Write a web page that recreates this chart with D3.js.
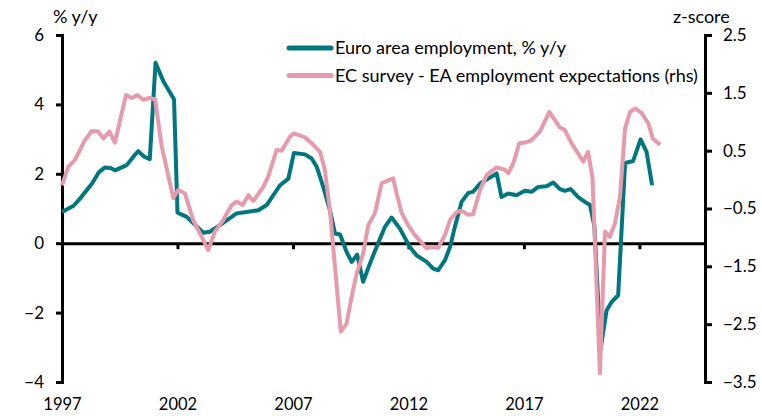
<!DOCTYPE html>
<html>
<head>
<meta charset="utf-8">
<script src="https://cdn.jsdelivr.net/npm/d3@7"></script>
<style>
  body { margin: 0; background: #fff; }
  svg text { font-family: Lato, "Liberation Sans", sans-serif; fill: #000; }
</style>
</head>
<body>
<div id="chart"></div>
<script>
// Euro area employment, % y/y (left axis)
var empTime = [1997.0, 1997.5, 1997.8, 1998.3, 1998.6, 1998.85, 1999.1, 1999.3, 1999.8, 2000.1,
  2000.3, 2000.55, 2000.8, 2001.05, 2001.4, 2001.85, 2002.0, 2002.4, 2003.12, 2003.4,
  2003.84, 2004.56, 2005.0, 2005.5, 2005.86, 2006.44, 2006.8, 2007.04, 2007.52, 2007.81,
  2008.03, 2008.31, 2008.6, 2008.82, 2009.04, 2009.32, 2009.54, 2009.78, 2010.04, 2010.33,
  2010.62, 2010.98, 2011.27, 2011.63, 2012.06, 2012.35, 2012.79, 2013.07, 2013.29, 2013.58,
  2013.8, 2014.01, 2014.3, 2014.59, 2014.8, 2015.1, 2015.53, 2015.82, 2016.03, 2016.32,
  2016.68, 2017.04, 2017.33, 2017.62, 2017.98, 2018.27, 2018.56, 2018.77, 2019.02, 2019.35,
  2019.64, 2019.86, 2020.05, 2020.32, 2020.58, 2020.8, 2021.08, 2021.38, 2021.73, 2022.05,
  2022.31, 2022.55];
var empValue = [0.9, 1.08, 1.3, 1.72, 2.05, 2.18, 2.17, 2.1, 2.25, 2.5,
  2.65, 2.5, 2.42, 5.2, 4.65, 4.15, 0.88, 0.76, 0.3, 0.33,
  0.52, 0.86, 0.9, 0.95, 1.1, 1.67, 1.86, 2.6, 2.56, 2.44,
  2.2, 1.62, 0.95, 0.28, 0.25, -0.25, -0.54, -0.33, -1.11, -0.59,
  -0.11, 0.47, 0.74, 0.42, -0.11, -0.35, -0.54, -0.73, -0.78, -0.49,
  -0.11, 0.47, 1.19, 1.45, 1.48, 1.72, 1.89, 2.01, 1.33, 1.43,
  1.38, 1.51, 1.48, 1.62, 1.64, 1.75, 1.56, 1.51, 1.56, 1.33,
  1.19, 1.1, 0.5, -3.05, -1.93, -1.69, -1.5, 2.31, 2.37, 2.99,
  2.63, 1.67];

// EC survey - EA employment expectations, z-score (right axis)
var ecTime = [1997.0, 1997.27, 1997.56, 1997.99, 1998.29, 1998.57, 1998.79, 1999.05, 1999.29, 1999.77,
  2000.02, 2000.26, 2000.52, 2000.78, 2001.03, 2001.32, 2001.82, 2002.03, 2002.32, 2002.68,
  2003.05, 2003.33, 2003.62, 2003.98, 2004.35, 2004.56, 2004.82, 2005.07, 2005.28, 2005.71,
  2005.93, 2006.29, 2006.51, 2006.87, 2007.04, 2007.52, 2007.81, 2008.17, 2008.38, 2008.6,
  2008.82, 2009.07, 2009.32, 2009.54, 2009.76, 2010.04, 2010.26, 2010.55, 2010.84, 2011.34,
  2011.49, 2011.71, 2011.99, 2012.28, 2012.79, 2013.0, 2013.29, 2013.58, 2013.8, 2014.09,
  2014.3, 2014.59, 2014.8, 2015.1, 2015.39, 2015.82, 2016.18, 2016.32, 2016.54, 2016.8,
  2017.04, 2017.33, 2017.69, 2018.1, 2018.34, 2018.56, 2018.77, 2019.06, 2019.57, 2019.78,
  2019.97, 2020.29, 2020.51, 2020.72, 2020.94, 2021.16, 2021.38, 2021.6, 2021.82, 2022.1,
  2022.39, 2022.58, 2022.9];
var ecValue = [-0.1, 0.22, 0.34, 0.68, 0.84, 0.83, 0.71, 0.83, 0.64, 1.46,
  1.41, 1.46, 1.38, 1.41, 1.39, 0.57, -0.32, -0.18, -0.24, -0.7,
  -0.99, -1.22, -0.9, -0.7, -0.44, -0.38, -0.44, -0.27, -0.37, -0.13,
  0.05, 0.51, 0.5, 0.74, 0.8, 0.73, 0.63, 0.48, 0.17, -0.53,
  -1.51, -2.63, -2.49, -2.03, -1.62, -1.28, -0.79, -0.58, -0.06, 0.02,
  -0.24, -0.58, -0.79, -0.96, -1.19, -1.16, -1.18, -0.96, -0.7, -0.56,
  -0.54, -0.61, -0.6, -0.18, 0.08, 0.21, 0.17, 0.11, 0.28, 0.63,
  0.64, 0.68, 0.83, 1.17, 1.03, 0.9, 0.86, 0.63, 0.31, 0.48,
  0.02, -3.35, -0.9, -0.99, -0.76, -0.3, 0.89, 1.17, 1.23, 1.15,
  0.97, 0.71, 0.6];

var yearTicks = [1997, 2002, 2007, 2012, 2017, 2022];
var leftTicks = [-4, -2, 0, 2, 4, 6];
var rightTicks = [-3.5, -2.5, -1.5, -0.5, 0.5, 1.5, 2.5];
var seriesNames = ["Euro area employment, % y/y", "EC survey - EA employment expectations (rhs)"];
var seriesColors = ["#00777e", "#e69aac"];

var W = 762, H = 416;
var margin = {top: 35, right: 57, bottom: 34, left: 62};

var svg = d3.select("#chart").append("svg")
    .attr("width", W)
    .attr("height", H);

var x = d3.scaleLinear().domain([1997, 2024.84]).range([margin.left, W - margin.right]);
var yL = d3.scaleLinear().domain([-4, 6]).range([H - margin.bottom, margin.top]);
var yR = d3.scaleLinear().domain([-3.5, 2.5]).range([H - margin.bottom, margin.top]);

// left axis
var gL = svg.append("g")
    .attr("transform", "translate(" + margin.left + ",0)")
    .call(d3.axisLeft(yL).tickValues(leftTicks).tickSize(6).tickPadding(12).tickFormat(d3.format("d")));

// right axis
var gR = svg.append("g")
    .attr("transform", "translate(" + (W - margin.right) + ",0)")
    .call(d3.axisRight(yR).tickValues(rightTicks).tickSize(7).tickPadding(11).tickFormat(d3.format(".1f")));

// x axis on the zero line, labels pushed to the bottom
var y0 = yL(0);
var gX = svg.append("g")
    .attr("transform", "translate(0," + y0 + ")")
    .call(d3.axisBottom(x).tickValues(yearTicks).tickSize(6).tickSizeOuter(0).tickFormat(d3.format("d")));

[gL, gR, gX].forEach(function(g) {
  g.selectAll("path, line").attr("stroke", "#000").attr("stroke-width", 3);
  g.selectAll("text").style("font-size", "17px").attr("fill", "#000");
});
gX.selectAll("text")
    .attr("dy", 0)
    .attr("y", yL(-4) - y0 + 28)
    .style("font-size", "16.5px");

// axis titles
svg.append("text").attr("x", 53).attr("y", 23).style("font-size", "18px").text("% y/y");
svg.append("text").attr("x", 673).attr("y", 23).style("font-size", "18px").text("z-score");

// lines
var lineL = d3.line()
    .x(function(d) { return x(d[0]); })
    .y(function(d) { return yL(d[1]); });
var lineR = d3.line()
    .x(function(d) { return x(d[0]); })
    .y(function(d) { return yR(d[1]); });

svg.append("path")
    .datum(d3.zip(empTime, empValue))
    .attr("d", lineL)
    .attr("fill", "none")
    .attr("stroke", seriesColors[0])
    .attr("stroke-width", 4)
    .attr("stroke-linejoin", "round");

svg.append("path")
    .datum(d3.zip(ecTime, ecValue))
    .attr("d", lineR)
    .attr("fill", "none")
    .attr("stroke", seriesColors[1])
    .attr("stroke-width", 4)
    .attr("stroke-linejoin", "round");

// legend
var legend = svg.append("g");
seriesNames.forEach(function(name, i) {
  var ly = 48 + i * 27.5;
  legend.append("line")
      .attr("x1", 289).attr("x2", 331)
      .attr("y1", ly).attr("y2", ly)
      .attr("stroke", seriesColors[i])
      .attr("stroke-width", 5)
      .attr("stroke-linecap", "round");
  legend.append("text")
      .attr("x", 335).attr("y", ly + 6)
      .style("font-size", "18px")
      .text(name);
});
</script>
</body>
</html>
